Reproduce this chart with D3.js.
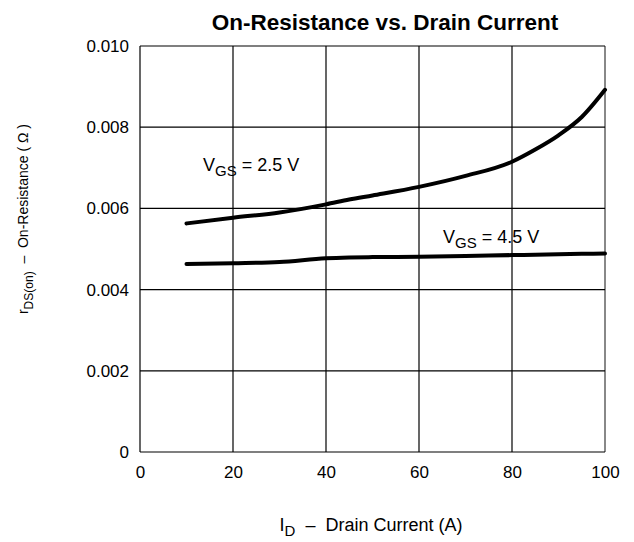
<!DOCTYPE html>
<html lang="en">
<head>
    <meta charset="UTF-8">
    <title>On-Resistance vs. Drain Current</title>
    <script src="https://cdn.jsdelivr.net/npm/d3@7"></script>
    <style>
        body { margin: 0; background: #fff; }
        text { font-family: "Liberation Sans", Arial, sans-serif; fill: #000; white-space: pre; }
    </style>
</head>
<body>
<script type="text/javascript">
    // data
    var current = [10, 20, 30, 40, 45, 50, 60, 70, 80, 85, 90, 95, 100];
    var vgs25 = [0.00563, 0.00577, 0.00590, 0.00610, 0.00622, 0.00632, 0.00653, 0.00680, 0.00715, 0.00745, 0.00780, 0.00825, 0.00892];
    var vgs45 = [0.00463, 0.00465, 0.00468, 0.00477, 0.00479, 0.00480, 0.00481, 0.00483, 0.00485, 0.00486, 0.00487, 0.00488, 0.00489];
    var xTicks = [0, 20, 40, 60, 80, 100];
    var yTicks = [0, 0.002, 0.004, 0.006, 0.008, 0.010];

    var width = 634, height = 542;
    var padding = {top: 46, right: 29, bottom: 90, left: 140};

    var svg = d3.select('body').append('svg')
            .attr('width', width)
            .attr('height', height);

    var xScale = d3.scaleLinear().domain([0, 100])
            .range([padding.left, width - padding.right]);
    var yScale = d3.scaleLinear().domain([0, 0.010])
            .range([height - padding.bottom, padding.top]);

    // grid
    var grid = svg.append('g');
    grid.selectAll('.vline').data(xTicks).enter().append('line')
            .attr('x1', function (d) { return xScale(d); })
            .attr('x2', function (d) { return xScale(d); })
            .attr('y1', yScale(0)).attr('y2', yScale(0.010))
            .attr('stroke', function (d) { return d === 100 ? '#888' : '#000'; })
            .attr('stroke-width', function (d) { return d === 100 ? 2 : 1.2; });
    grid.selectAll('.hline').data(yTicks).enter().append('line')
            .attr('x1', xScale(0)).attr('x2', xScale(100))
            .attr('y1', function (d) { return yScale(d); })
            .attr('y2', function (d) { return yScale(d); })
            .attr('stroke', '#000')
            .attr('stroke-width', 1.2);

    // axes (labels only)
    var xAxis = d3.axisBottom(xScale).tickValues(xTicks).tickSize(0).tickPadding(14);
    var yAxis = d3.axisLeft(yScale).tickValues(yTicks).tickSize(0).tickPadding(11)
            .tickFormat(function (d) { return d === 0 ? '0' : d3.format('.3f')(d); });

    var gx = svg.append('g')
            .attr('transform', 'translate(0,' + yScale(0) + ')')
            .call(xAxis);
    var gy = svg.append('g')
            .attr('transform', 'translate(' + xScale(0) + ',0)')
            .call(yAxis);
    [gx, gy].forEach(function (g) {
        g.select('.domain').remove();
        g.selectAll('text').style('font-size', '17px')
                .style('font-family', '"Liberation Sans", Arial, sans-serif');
    });

    // curves
    var line = d3.line()
            .x(function (d, i) { return xScale(current[i]); })
            .y(function (d) { return yScale(d); })
            .curve(d3.curveMonotoneX);
    [vgs25, vgs45].forEach(function (s) {
        svg.append('path')
                .attr('d', line(s))
                .attr('fill', 'none')
                .attr('stroke', '#000')
                .attr('stroke-width', 4)
                .attr('stroke-linecap', 'round');
    });

    // title
    svg.append('text')
            .attr('x', 385).attr('y', 30)
            .attr('text-anchor', 'middle')
            .style('font-size', '22.5px')
            .style('font-weight', 'bold')
            .text('On-Resistance vs. Drain Current');

    // curve labels
    function vLabel(x, y, v) {
        var t = svg.append('text').attr('x', x).attr('y', y).style('font-size', '18px');
        t.append('tspan').text('V');
        t.append('tspan').attr('dy', 5).style('font-size', '15px').text('GS');
        t.append('tspan').attr('dy', -5).text(' = ' + v + ' V');
    }
    vLabel(203, 171, '2.5');
    vLabel(443, 243, '4.5');

    // x axis title
    var xt = svg.append('text')
            .attr('x', 371).attr('y', 531)
            .attr('text-anchor', 'middle')
            .style('font-size', '18px');
    xt.append('tspan').text('I');
    xt.append('tspan').attr('dy', 5).style('font-size', '15px').text('D');
    xt.append('tspan').attr('dy', -5).text('  \u2013  Drain Current (A)');

    // y axis title
    var yt = svg.append('text')
            .attr('transform', 'translate(28,219) rotate(-90)')
            .attr('text-anchor', 'middle')
            .style('font-size', '14px');
    yt.append('tspan').text('r');
    yt.append('tspan').attr('dy', 5).style('font-size', '12px').text('DS(on)');
    yt.append('tspan').attr('dy', -5).text('  \u2013  On-Resistance ( \u03A9 )');
</script>
</body>
</html>
